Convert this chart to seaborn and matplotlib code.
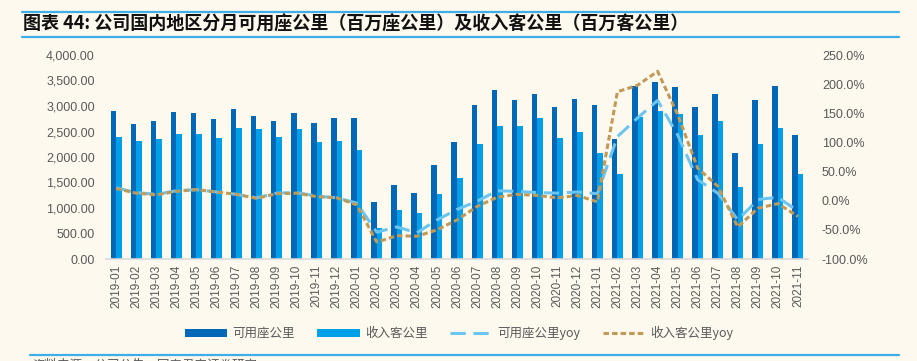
import numpy as np
import pandas as pd
import matplotlib
matplotlib.use('Agg')
import matplotlib.pyplot as plt
from matplotlib.lines import Line2D
from matplotlib.patches import Patch
from matplotlib.ticker import FuncFormatter, FixedLocator
import seaborn as sns

months = ['2019-01', '2019-02', '2019-03', '2019-04', '2019-05', '2019-06', '2019-07',
          '2019-08', '2019-09', '2019-10', '2019-11', '2019-12',
          '2020-01', '2020-02', '2020-03', '2020-04', '2020-05', '2020-06', '2020-07',
          '2020-08', '2020-09', '2020-10', '2020-11', '2020-12',
          '2021-01', '2021-02', '2021-03', '2021-04', '2021-05', '2021-06', '2021-07',
          '2021-08', '2021-09', '2021-10', '2021-11']

# 可用座公里 (百万座公里)
ask = [2902, 2641, 2712, 2882, 2856, 2739, 2948, 2810, 2712, 2856, 2665, 2758,
       2758, 1124, 1458, 1288, 1837, 2288, 3020, 3307, 3118, 3235, 2974, 3137,
       3020, 2359, 3386, 3471, 3379, 2974, 3235, 2072, 3111, 3399, 2431]

# 收入客公里 (百万客公里)
rpk = [2399, 2307, 2359, 2451, 2451, 2379, 2569, 2549, 2399, 2549, 2288, 2307,
       2144, 601, 954, 908, 1268, 1595, 2261, 2614, 2614, 2758, 2379, 2497,
       2072, 1670, 2778, 2908, 2850, 2425, 2712, 1405, 2261, 2569, 1667]

# yoy (%)
ask_yoy = [22, 14, 11, 17, 19, 15, 11, 5, 13, 14, 8, 5,
           -4, -54, -45, -55, -33, -15, -1, 17, 16, 14, 13, 15,
           12, 110, 142, 172, 113, 36, 13, -33, 2, 6, -18]
rpk_yoy = [21, 13, 10, 16, 19, 15, 11, 4, 12, 13, 7, 5,
           -7, -71, -60, -61, -50, -33, -10, 6, 11, 9, 5, 9,
           -2, 187, 198, 222, 148, 56, 25, -45, -13, -5, -27]

bar_colors = ['#0068B7', '#00A0E9']
line_blue = '#6CC5F1'
line_brown = '#C39A55'
bg = '#FDF9EE'
txt = '#595959'

df = pd.DataFrame({'month': months, '可用座公里': ask, '收入客公里': rpk})
long = df.melt(id_vars='month', var_name='series', value_name='value')

sns.set_style('white')
plt.rcParams['font.family'] = ['Liberation Sans', 'Noto Sans CJK SC', 'DejaVu Sans']

fig = plt.figure(figsize=(9.17, 3.61), dpi=100, facecolor=bg)
ax = fig.add_axes([106 / 917, 1 - 259 / 361, 702 / 917, 204 / 361])
ax.set_facecolor(bg)

sns.barplot(data=long, x='month', y='value', hue='series', palette=bar_colors,
            width=0.55, gap=0, saturation=1, linewidth=0, edgecolor='none',
            ax=ax, legend=False)
ax.set_xlim(-0.5, len(months) - 0.5)
ax.set_ylim(0, 4000)
ax.set_yticks(np.arange(0, 4001, 500))
ax.yaxis.set_major_formatter(FuncFormatter(lambda v, p: f'{v:,.2f}'))
ax.set_xlabel('')
ax.set_ylabel('')
ax.tick_params(axis='y', length=0, labelsize=9, labelcolor=txt, pad=8)
ax.tick_params(axis='x', which='major', length=0, labelsize=8.5, labelcolor=txt,
               rotation=90, pad=4)
ax.xaxis.set_minor_locator(FixedLocator(np.arange(-0.5, len(months), 1)))
ax.tick_params(axis='x', which='minor', length=3, color='#D9D9D9', width=1)
for s in ['top', 'right', 'left']:
    ax.spines[s].set_visible(False)
ax.spines['bottom'].set_color('#D9D9D9')
ax.spines['bottom'].set_linewidth(1.2)

ax2 = ax.twinx()
x = np.arange(len(months))
sns.lineplot(x=x, y=ask_yoy, ax=ax2, color=line_blue, lw=2.2)
ax2.lines[-1].set_dashes([5, 2.5])
sns.lineplot(x=x, y=rpk_yoy, ax=ax2, color=line_brown, lw=2.2)
ax2.lines[-1].set_dashes([1.8, 1.0])
ax2.set_ylim(-100, 250)
ax2.set_yticks(np.arange(-100, 251, 50))
ax2.yaxis.set_major_formatter(FuncFormatter(lambda v, p: f'{v:.1f}%'))
ax2.tick_params(axis='y', length=0, labelsize=9, labelcolor=txt, pad=10)
ax2.set_xlim(-0.5, len(months) - 0.5)
for s in ['top', 'right', 'left', 'bottom']:
    ax2.spines[s].set_visible(False)

# legend
handles = [Patch(facecolor=bar_colors[0], edgecolor='none'),
           Patch(facecolor=bar_colors[1], edgecolor='none'),
           Line2D([], [], color=line_blue, lw=2.2, dashes=[5, 2.5]),
           Line2D([], [], color=line_brown, lw=2.2, dashes=[1.8, 1.0])]
labels = ['可用座公里', '收入客公里', '可用座公里yoy', '收入客公里yoy']
leg = fig.legend(handles, labels, ncol=4, loc='center', bbox_to_anchor=(459 / 917, 1 - 333 / 361),
                 frameon=False, fontsize=9, handlelength=3.4, handleheight=0.6,
                 columnspacing=1.8, handletextpad=0.4)
for t in leg.get_texts():
    t.set_color(txt)
    t.set_family(['Noto Sans CJK SC', 'DejaVu Sans'])

# title with rules
fig.add_artist(Line2D([22 / 917, 899 / 917], [1 - 12 / 361] * 2, color='#3DAEE8', lw=1.6))
fig.add_artist(Line2D([22 / 917, 899 / 917], [1 - 37 / 361] * 2, color='#3DAEE8', lw=1.6))
fig.text(23 / 917, 1 - 24.5 / 361, '图表 44: 公司国内地区分月可用座公里（百万座公里）及收入客公里（百万客公里）',
         fontsize=13, fontweight='bold', color='#111111', va='center',
         family=['Noto Sans CJK SC', 'DejaVu Sans'])

# source line at bottom (cut off by the image edge, as in the reference)
fig.add_artist(Line2D([30 / 917, 899 / 917], [1 - 355 / 361] * 2, color='#3DAEE8', lw=1.6))
fig.text(32 / 917, 1 - 358.5 / 361, '资料来源：公司公告，国泰君安证券研究', fontsize=9, color=txt,
         va='top', family=['Noto Sans CJK SC', 'DejaVu Sans'])

fig.savefig('out.png', dpi=100, facecolor=bg)
